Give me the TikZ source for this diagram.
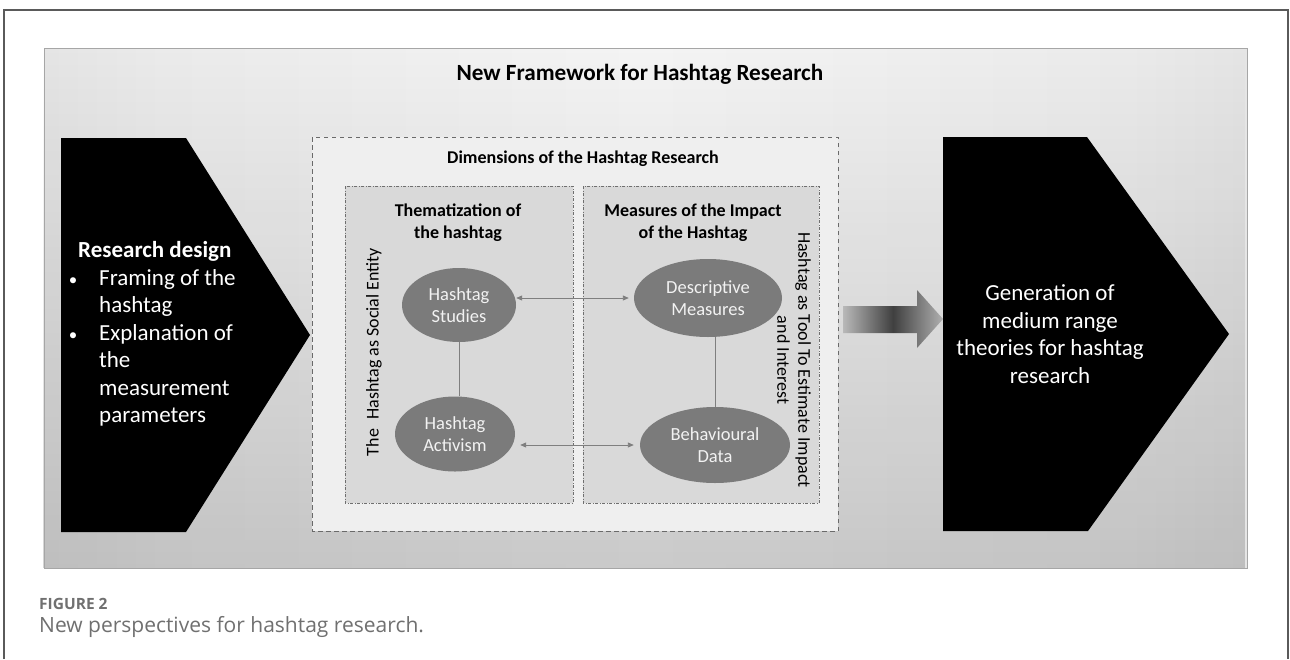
\documentclass[tikz,border=0pt]{standalone}
\usepackage{fontspec}
\setmainfont{Carlito}
\newfontfamily\capfont{Open Sans}
\usetikzlibrary{arrows.meta,shapes.geometric,fadings}
\newcommand\setfs[2]{\fontsize{#1}{#2}\selectfont}
\definecolor{framegray}{HTML}{5A5A5A}
\definecolor{ellgray}{HTML}{7B7B7B}
\definecolor{elltext}{HTML}{F2F2F2}
\definecolor{linegray}{HTML}{7F7F7F}
\definecolor{innerfill}{HTML}{D9D9D9}
\definecolor{innerline}{HTML}{6F6F6F}
\definecolor{outerfill}{HTML}{EFEFEF}
\definecolor{outerline}{HTML}{6A6A6A}
\definecolor{capgray}{HTML}{707070}
\definecolor{pnlA}{HTML}{A6A6A6}
\definecolor{pnlB}{HTML}{C4C4C4}
\definecolor{pnlC}{HTML}{DCDCDC}
\definecolor{pnlD}{HTML}{EBEBEB}
\definecolor{pnlE}{HTML}{F4F4F4}
\pgfdeclarehorizontalshading{panelh}{100bp}{color(0bp)=(pnlA); color(8bp)=(pnlB); color(18bp)=(pnlC); color(30bp)=(pnlD); color(50bp)=(pnlE); color(70bp)=(pnlD); color(82bp)=(pnlC); color(92bp)=(pnlB); color(100bp)=(pnlA)}
\tikzfading[name=fadebot, top color=transparent!100, bottom color=transparent!0]
\begin{document}
\begin{tikzpicture}[x=1pt,y=-1pt,
  wtxt/.style={inner sep=0pt, text=white, font=\setfs{23}{28}, text height=15.5pt, text depth=5pt},
  ell/.style={ellipse, fill=ellgray, inner sep=0pt, text=elltext, align=center, font=\setfs{18.5}{22}},
  hd/.style={font=\bfseries\setfs{18}{22}, align=center, inner sep=0pt},
  conn/.style={draw=linegray, line width=0.9pt},
  dbl/.style={conn, {Triangle[length=6pt,width=5pt]}-{Triangle[length=6pt,width=5pt]}}]
\useasboundingbox (0,0) rectangle (1290,659);
\fill[white] (0,0) rectangle (1290,659);
% outer frame
\draw[framegray, line width=1.2pt] (4,659) -- (4,10) -- (1288,10) -- (1288,659);
% panel
\shade[shading=panelh] (44,48) rectangle (1247,568);
\fill[black, fill opacity=0.17, path fading=fadebot] (44,48) rectangle (1247,568);
\draw[gray!70, line width=0.8pt] (44,48) rectangle (1247,568);
% title
\node[font=\bfseries\setfs{23.2}{27}, inner sep=0pt] (title) at (640,74) {New Framework for Hashtag Research};
% left pentagon
\fill[black] (61,138) -- (186,138) -- (310,335) -- (186,532) -- (61,532) -- cycle;
\node[wtxt, anchor=west, font=\bfseries\setfs{23}{28}] (rd) at (78,252) {Research design};
\node[wtxt, font=\setfs{17}{20}] (b1) at (73,280) {•};
\node[wtxt, anchor=west] (l1) at (99,280) {Framing of the};
\node[wtxt, anchor=west] (l2) at (99,307) {hashtag};
\node[wtxt, font=\setfs{17}{20}] (b2) at (73,335) {•};
\node[wtxt, anchor=west] (l3) at (99,335) {Explanation of};
\node[wtxt, anchor=west] (l4) at (99,362) {the};
\node[wtxt, anchor=west] (l5) at (99,390) {measurement};
\node[wtxt, anchor=west] (l6) at (99,417) {parameters};
% right pentagon
\fill[black] (943,137) -- (1087,137) -- (1229,334) -- (1088,531) -- (943,531) -- cycle;
\node[inner sep=0pt, text=white, font=\setfs{23}{27.7}, align=center] (gen) at (1050,334) {Generation of\\medium range\\theories for hashtag\\research};
% block arrow
\shade[left color=gray!55, right color=gray!62, middle color=black!75] (843,306) -- (917,306) -- (917,290) -- (943,319) -- (917,348) -- (917,333) -- (843,333) -- cycle;
% dashed outer box
\draw[outerline, fill=outerfill, line width=0.9pt, dash pattern=on 4.5pt off 3.5pt] (312,137) rectangle (838,531);
\node[hd] (dim) at (583,159) {Dimensions of the Hashtag Research};
% inner boxes
\draw[innerline, fill=innerfill, line width=0.7pt, dash pattern=on 3pt off 1.5pt on 1pt off 1.5pt] (345,186) rectangle (573,503);
\draw[innerline, fill=innerfill, line width=0.7pt, dash pattern=on 3pt off 1.5pt on 1pt off 1.5pt] (583,186) rectangle (819,503);
\node[hd] (them) at (458,223) {Thematization of\\the hashtag};
\node[hd] (meas) at (693,223) {Measures of the Impact\\of the Hashtag};
% rotated labels
\node[inner sep=0pt, rotate=90, font=\setfs{18}{21}] (socent) at (374,352) {The\hspace{0.3em} Hashtag as Social Entity};
\node[inner sep=0pt, rotate=-90, font=\setfs{18}{21}, align=center] (tool) at (794,360) {Hashtag as Tool To Estimate Impact\\and Interest};
% ellipses
\node[ell, minimum width=114pt, minimum height=74pt] (studies) at (459,305) {Hashtag\\Studies};
\node[ell, minimum width=120pt, minimum height=75pt] (activism) at (455,434) {Hashtag\\Activism};
\node[ell, minimum width=148pt, minimum height=78pt] (descr) at (708,298) {Descriptive\\Measures};
\node[ell, minimum width=150pt, minimum height=76pt] (behav) at (715,445) {Behavioural\\Data};
% connectors
\draw[conn] (studies.south) -- (studies.south |- activism.north);
\draw[conn] (behav.north) -- (behav.north |- descr.south);
\draw[dbl, shorten >=5pt] (studies.east |- descr.west) -- (descr.west);
\draw[dbl, shorten <=5pt, shorten >=6pt] (activism.east |- behav.west) -- (behav.west);
% caption
\node[inner sep=0pt, anchor=west, text=capgray, font=\capfont\bfseries\setfs{15.5}{18}] (figno) at (39,604) {FIGURE 2};
\node[inner sep=0pt, anchor=west, text=capgray, font=\capfont\setfs{21}{25}] (cap) at (39,627) {New perspectives for hashtag research.};
\end{tikzpicture}
\end{document}
